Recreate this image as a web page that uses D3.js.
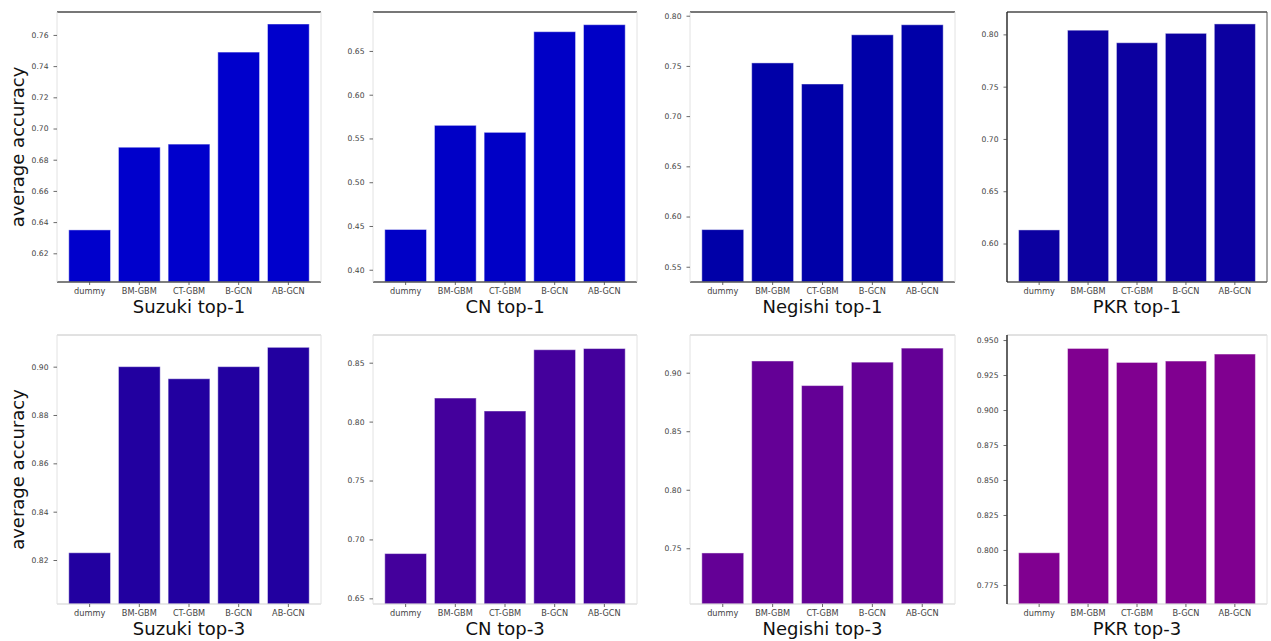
<!DOCTYPE html>
<html>
<head>
<meta charset="utf-8">
<script src="https://cdn.jsdelivr.net/npm/d3@7/dist/d3.min.js"></script>
<style>
  html, body { margin: 0; padding: 0; background: #fff; }
  svg { display: block; font-family: "DejaVu Sans", sans-serif; }
</style>
</head>
<body>
<svg id="chart" width="1271" height="641"></svg>
<script>
// Methods compared in every panel
const methods = ["dummy", "BM-GBM", "CT-GBM", "B-GCN", "AB-GCN"];

// Panel titles (reaction dataset + top-k)
const titles = ["Suzuki top-1", "CN top-1", "Negishi top-1", "PKR top-1",
                "Suzuki top-3", "CN top-3", "Negishi top-3", "PKR top-3"];

// Average accuracy per method, one array per panel
const suzukiTop1  = [0.635, 0.688, 0.690, 0.749, 0.767];
const cnTop1      = [0.446, 0.565, 0.557, 0.672, 0.680];
const negishiTop1 = [0.587, 0.753, 0.732, 0.781, 0.791];
const pkrTop1     = [0.613, 0.804, 0.792, 0.801, 0.810];
const suzukiTop3  = [0.823, 0.900, 0.895, 0.900, 0.908];
const cnTop3      = [0.688, 0.820, 0.809, 0.861, 0.862];
const negishiTop3 = [0.746, 0.910, 0.889, 0.909, 0.921];
const pkrTop3     = [0.798, 0.944, 0.934, 0.935, 0.940];

// y-axis limits per panel
const yLimits = [[0.6016, 0.7747], [0.386, 0.6945], [0.5348, 0.8037], [0.5632, 0.8214],
                 [0.8018, 0.9131], [0.6452, 0.8735], [0.7024, 0.9322], [0.7614, 0.9536]];

// y tick labels per panel
const yTicks = [
  [0.62, 0.64, 0.66, 0.68, 0.70, 0.72, 0.74, 0.76],
  [0.40, 0.45, 0.50, 0.55, 0.60, 0.65],
  [0.55, 0.60, 0.65, 0.70, 0.75, 0.80],
  [0.60, 0.65, 0.70, 0.75, 0.80],
  [0.82, 0.84, 0.86, 0.88, 0.90],
  [0.65, 0.70, 0.75, 0.80, 0.85],
  [0.75, 0.80, 0.85, 0.90],
  [0.775, 0.800, 0.825, 0.850, 0.875, 0.900, 0.925, 0.950]
];
const yTickFormats = [".2f", ".2f", ".2f", ".2f", ".2f", ".2f", ".2f", ".3f"];

const seriesValues = [suzukiTop1, cnTop1, negishiTop1, pkrTop1,
                      suzukiTop3, cnTop3, negishiTop3, pkrTop3];

// Bar colours shift from blue (top-1) to purple (top-3)
const barColors = ["#0000cc", "#0000c6", "#0000a8", "#0c00a0",
                   "#2200a0", "#44009c", "#640096", "#800090"];

// Layout of the 2x4 grid
const colLeft = [57, 373, 690, 1007];
const colWidth = [264, 264, 265, 260];
const rowTop = [12, 335];
const rowBottom = [282, 604];

const svg = d3.select("#chart");

seriesValues.forEach((values, i) => {
  const row = Math.floor(i / 4), col = i % 4;
  const left = colLeft[col], width = colWidth[col];
  const top = rowTop[row], bottom = rowBottom[row];
  const height = bottom - top;

  const g = svg.append("g").attr("transform", `translate(${left},${top})`);

  const x = d3.scaleBand().domain(methods).range([0, width])
    .paddingInner(0.16).paddingOuter(0.237);
  const y = d3.scaleLinear().domain(yLimits[i]).range([height, 0]);

  // bars
  g.append("g").selectAll("rect")
    .data(methods.map((m, k) => ({ m, v: values[k] })))
    .join("rect")
      .attr("x", d => x(d.m))
      .attr("width", x.bandwidth())
      .attr("y", d => y(d.v))
      .attr("height", d => height - y(d.v))
      .attr("fill", barColors[i])
      .attr("stroke", "#ffffff")
      .attr("stroke-opacity", 0.45)
      .attr("stroke-width", 1);

  // frame
  const isLeftDark = col === 3;
  const spines = [
    { x1: 0, y1: 0, x2: width, y2: 0, c: row === 0 ? "#4a4a4a" : "#c4c4c4", w: row === 0 ? 1.6 : 1 },
    { x1: 0, y1: height, x2: width, y2: height, c: row === 0 ? "#555" : "#cfcfcf", w: row === 0 ? 1.4 : 1 },
    { x1: 0, y1: 0, x2: 0, y2: height, c: isLeftDark ? "#222" : "#e2e2e2", w: isLeftDark ? 1.4 : 1 },
    { x1: width, y1: 0, x2: width, y2: height, c: (isLeftDark && row === 0) ? "#555" : "#e2e2e2", w: 1 }
  ];
  g.append("g").selectAll("line").data(spines).join("line")
    .attr("x1", d => d.x1).attr("y1", d => d.y1)
    .attr("x2", d => d.x2).attr("y2", d => d.y2)
    .attr("stroke", d => d.c).attr("stroke-width", d => d.w);

  // y axis
  const yAxis = g.append("g")
    .call(d3.axisLeft(y).tickValues(yTicks[i]).tickFormat(d3.format(yTickFormats[i]))
      .tickSize(3.5).tickPadding(5));
  yAxis.select(".domain").remove();
  yAxis.selectAll(".tick line").attr("stroke", "#444").attr("stroke-width", 0.8);
  yAxis.selectAll(".tick text").attr("fill", "#444").attr("font-size", "7.6px")
    .attr("font-family", "DejaVu Sans, sans-serif");

  // x axis
  const xAxis = g.append("g").attr("transform", `translate(0,${height})`)
    .call(d3.axisBottom(x).tickSize(3).tickPadding(3.5));
  xAxis.select(".domain").remove();
  xAxis.selectAll(".tick line").attr("stroke", "#444").attr("stroke-width", 0.8);
  xAxis.selectAll(".tick text").attr("fill", "#444").attr("font-size", "8.2px")
    .attr("font-family", "DejaVu Sans, sans-serif");

  // panel title under the x axis
  g.append("text")
    .attr("x", width / 2)
    .attr("y", height + 31)
    .attr("text-anchor", "middle")
    .attr("font-size", "18px")
    .attr("fill", "#111")
    .text(titles[i]);

  // y label on the first column
  if (col === 0) {
    svg.append("text")
      .attr("transform", `translate(24,${top + height / 2}) rotate(-90)`)
      .attr("text-anchor", "middle")
      .attr("font-size", "18px")
      .attr("fill", "#111")
      .text("average accuracy");
  }
});
</script>
</body>
</html>
